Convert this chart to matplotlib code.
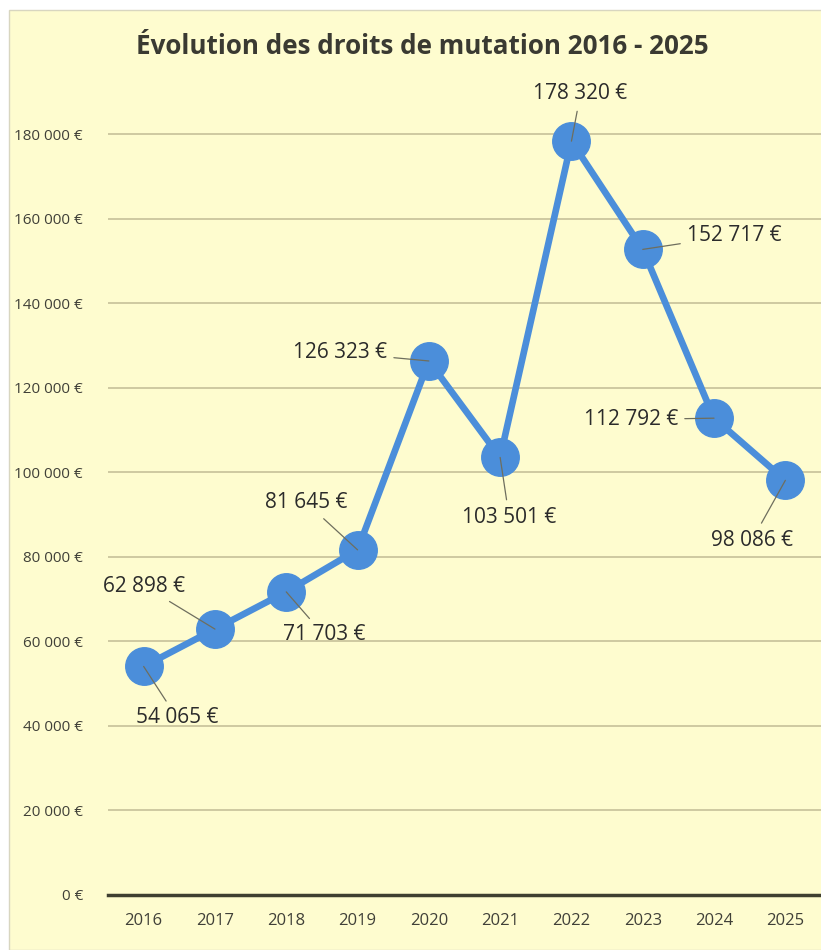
import matplotlib.pyplot as plt
from matplotlib.patches import Rectangle
from matplotlib import font_manager

years = ['2016', '2017', '2018', '2019', '2020', '2021', '2022', '2023', '2024', '2025']
droits = [54065, 62898, 71703, 81645, 126323, 103501, 178320, 152717, 112792, 98086]
y_ticks = [0, 20000, 40000, 60000, 80000, 100000, 120000, 140000, 160000, 180000]

# label offsets (points) relative to each marker
label_offsets = [(24, -37), (-51, 31), (27, -31), (-37, 34), (-64, 6),
                 (6.5, -43), (6.5, 34), (66, 10), (-60, -1), (-24, -43)]


def fmt_euro(v):
    return f"{v:,}".replace(',', ' ') + ' €'


def pick_font(names):
    installed = {f.name for f in font_manager.fontManager.ttflist}
    for n in names:
        if n in installed:
            return n
    return 'DejaVu Sans'


narrow = pick_font(['Liberation Sans Narrow', 'Open Sans', 'DejaVu Sans'])
label_font = pick_font(['Open Sans', 'Noto Sans', 'DejaVu Sans'])

bg = '#FEFCCF'
blue = '#4B8EDA'

fig = plt.figure(figsize=(8.21, 9.5), dpi=100, facecolor='white')
fig.patches.append(Rectangle((9 / 821, 0), 1, 1 - 10 / 950, transform=fig.transFigure,
                             facecolor=bg, edgecolor='#D8D6C0', linewidth=1.0, zorder=-5))

ax = fig.add_axes([108 / 821, 55 / 950, 1 - 108 / 821, (895 - 49.5) / 950])
ax.set_facecolor('none')

x = list(range(len(years)))
ax.plot(x, droits, color=blue, linewidth=4.8, marker='o', markersize=27,
        markerfacecolor=blue, markeredgecolor=blue, zorder=3, solid_capstyle='round')

for xi, v, off in zip(x, droits, label_offsets):
    ax.annotate(fmt_euro(v), xy=(xi, v), xytext=off, textcoords='offset points',
                ha='center', va='center', fontsize=15, family=label_font, color='#2B2B2B',
                arrowprops=dict(arrowstyle='-', color='#6E6E5E', linewidth=0.9,
                                shrinkA=3, shrinkB=0),
                zorder=5)

ax.set_xlim(-0.5, len(years) - 0.5)
ax.set_ylim(0, 200000)
ax.set_xticks(x)
ax.set_xticklabels(years, family=narrow, fontsize=12, color='#404038')
ax.set_yticks(y_ticks)
ax.set_yticklabels([fmt_euro(v) for v in y_ticks], family=narrow, fontsize=11, color='#404038')
ax.tick_params(axis='both', length=0)
ax.tick_params(axis='y', pad=18)
ax.tick_params(axis='x', pad=13)

ax.grid(axis='y', color='#CBC59E', linewidth=1.3)
ax.set_axisbelow(True)
for side in ['top', 'right', 'left']:
    ax.spines[side].set_visible(False)
ax.spines['bottom'].set_color('#3F3F30')
ax.spines['bottom'].set_linewidth(2.5)
ax.spines['bottom'].set_zorder(2)

fig.text(422 / 821, 1 - 46 / 950, 'Évolution des droits de mutation 2016 - 2025',
         ha='center', va='center', fontsize=18.7, fontweight='bold', family=narrow,
         color='#3A3A32')

fig.savefig('out.png', dpi=100, facecolor='white')
